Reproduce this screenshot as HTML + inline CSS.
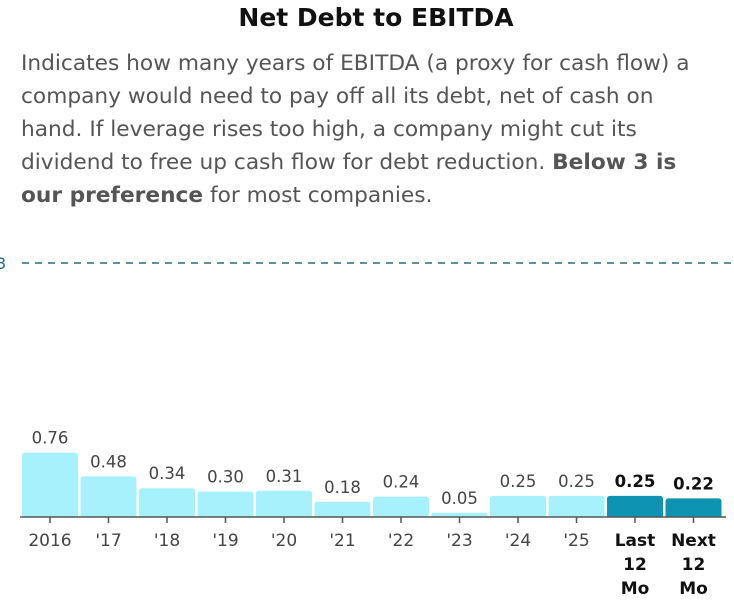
<!DOCTYPE html>
<html><head><meta charset="utf-8"><style>
body{margin:0;width:734px;height:615px;background:#fff;overflow:hidden;font-family:"DejaVu Sans","Liberation Sans",sans-serif;}
#title{position:absolute;left:0;width:752px;top:3px;text-align:center;font-size:25px;font-weight:bold;color:#111;}
#desc{position:absolute;left:21px;top:47px;width:720px;font-size:21.7px;line-height:33px;color:#555;white-space:nowrap;}
#desc b{color:#555;}
svg{position:absolute;left:0;top:0;font-family:"DejaVu Sans",sans-serif;}
</style></head><body>
<div id="title">Net Debt to EBITDA</div>
<div id="desc">Indicates how many years of EBITDA (a proxy for cash flow) a<br>company would need to pay off all its debt, net of cash on<br>hand. If leverage rises too high, a company might cut its<br>dividend to free up cash flow for debt reduction. <b>Below 3 is</b><br><b>our preference</b> for most companies.</div>
<svg id="chart" width="734" height="615"></svg>
<script>
const categories=["2016","'17","'18","'19","'20","'21","'22","'23","'24","'25","Last 12 Mo","Next 12 Mo"];
const values=[0.76,0.48,0.34,0.30,0.31,0.18,0.24,0.05,0.25,0.25,0.25,0.22];
const labels=["0.76","0.48","0.34","0.30","0.31","0.18","0.24","0.05","0.25","0.25","0.25","0.22"];
const highlighted=[false,false,false,false,false,false,false,false,false,false,true,true];
const threshold=3;
const NS="http://www.w3.org/2000/svg";
const svg=document.getElementById('chart');
const y0=517,pxPerUnit=254/3,x0=22,step=58.5,bw=56;
const y=v=>y0-v*pxPerUnit;
const x=i=>x0+i*step;
function mk(t,a){const e=document.createElementNS(NS,t);for(const k in a)e.setAttribute(k,a[k]);svg.appendChild(e);return e;}
const tl=mk('line',{x1:22,x2:734,y1:y(threshold),y2:y(threshold),stroke:'#2a6b82','stroke-width':1.5,'stroke-dasharray':'7,6'});


const tt=mk('text',{x:-4,y:y(threshold)+6,'font-size':16,fill:'#2a6b82'});tt.textContent='3';


values.forEach((v,i)=>{
 const h=y0-y(v),r=Math.min(3,h/2);const L=x(i),R=L+bw,T=y(v);
 const p=mk('path',{d:`M${L},${y0}V${T+r}Q${L},${T} ${L+r},${T}H${R-r}Q${R},${T} ${R},${T+r}V${y0}Z`,fill:highlighted[i]?'#0e94b2':'#a6f1fc'});
 
 
 const vl=mk('text',{x:L+bw/2,y:T-9,'text-anchor':'middle','font-size':16.5,fill:highlighted[i]?'#111':'#444','font-weight':highlighted[i]?'bold':'normal'});
 vl.textContent=labels[i];
 
 
 mk('line',{x1:L+bw/2,x2:L+bw/2,y1:y0,y2:y0+6,stroke:'#555','stroke-width':1.5});
 const parts=highlighted[i]?categories[i].split(' '):[categories[i]];
 parts.forEach((s,j)=>{
  const c=mk('text',{x:L+bw/2,y:y0+29+j*24,'text-anchor':'middle','font-size':17,fill:highlighted[i]?'#111':'#444','font-weight':highlighted[i]?'bold':'normal'});
  c.textContent=s;
  
  
 });
});
const ax=mk('line',{x1:20,x2:726,y1:y0,y2:y0,stroke:'#555','stroke-width':1.5});


</script>
</body></html>
